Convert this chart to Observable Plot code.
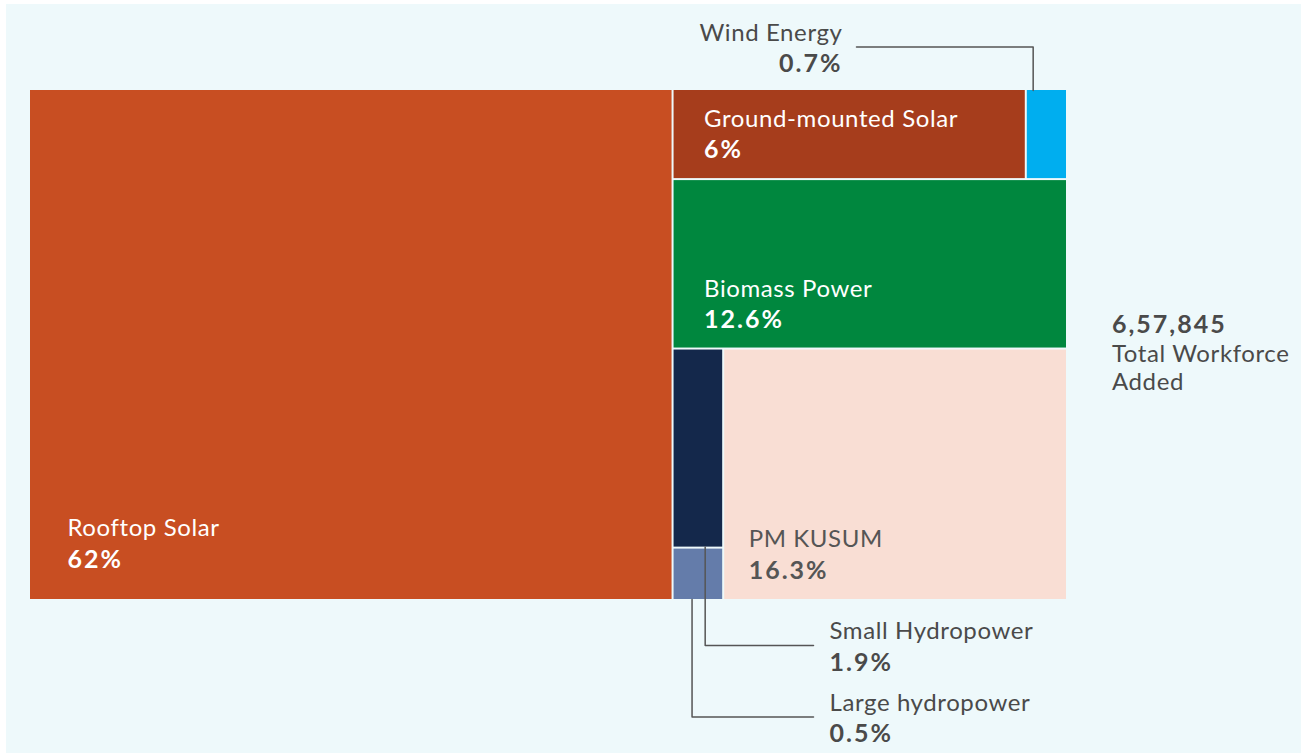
<!DOCTYPE html>
<html><head><meta charset="utf-8">
<script src="https://cdn.jsdelivr.net/npm/d3@7"></script>
<script src="https://cdn.jsdelivr.net/npm/@observablehq/plot@0.6"></script>
<style>
html,body{margin:0;padding:0;background:#fff;}
#chart{position:absolute;left:6px;top:4px;width:1295px;height:749px;background:#EEF9FB;}
#chart svg{display:block;}
#chart g[font-size="24"]{letter-spacing:0.6px;}
#chart g[font-size="25"]{letter-spacing:2px;}
</style></head><body><div id="chart"></div>
<script>
// ---- data ----
const categories = ["Rooftop Solar","Ground-mounted Solar","Wind Energy","Biomass Power","Small Hydropower","Large hydropower","PM KUSUM"];
const shares = [62, 6, 0.7, 12.6, 1.9, 0.5, 16.3];
const shareLabels = ["62%","6%","0.7%","12.6%","1.9%","0.5%","16.3%"];
const totalWorkforce = "6,57,845";
const totalLines = ["Total Workforce","Added"];

// ---- style ----
const palette = ["#C84E22","#A63D1C","#00AEEF","#00873E","#14284B","#647CAA","#F9DED4"];
const textGray = "#4a4a4a";

// nesting used by the slice-dice treemap
const tree = {name:"root", children:[
  {name:"Rooftop Solar"},
  {name:"rest", children:[
    {name:"top", children:[{name:"Ground-mounted Solar"},{name:"Wind Energy"}]},
    {name:"Biomass Power"},
    {name:"bottom", children:[
      {name:"hydro", children:[{name:"Small Hydropower"},{name:"Large hydropower"}]},
      {name:"PM KUSUM"}
    ]}
  ]}
]};

const shareOf = new Map(categories.map((c,i)=>[c,shares[i]]));
const labelOf = new Map(categories.map((c,i)=>[c,shareLabels[i]]));

const W = 1036, H = 509;
const root = d3.hierarchy(tree).sum(d => d.children ? 0 : shareOf.get(d.name));
d3.treemap().tile(d3.treemapSliceDice).size([W,H]).paddingInner(2)(root);
const cells = root.leaves().map(d => ({name:d.data.name, x0:d.x0, x1:d.x1, y0:d.y0, y1:d.y1}));
const cellOf = new Map(cells.map(c=>[c.name,c]));

// in-cell labels (offsets in px)
const inside = [
  {name:"Rooftop Solar", anchor:"bottom", dx:37, dy:32, color:"#fff"},
  {name:"Ground-mounted Solar", anchor:"top", dx:30, dy:36, color:"#fff"},
  {name:"Biomass Power", anchor:"bottom", dx:30, dy:20, color:"#fff"},
  {name:"PM KUSUM", anchor:"bottom", dx:24, dy:21, color:"#555"}
];
const gap = 31.5;
const insideRows = inside.map(o => {
  const c = cellOf.get(o.name);
  let nameY, pctY;
  if (o.anchor === "top") { nameY = c.y0 + o.dy; pctY = nameY + gap; }
  else { pctY = c.y1 - o.dy; nameY = pctY - gap; }
  return {name:o.name, pct:labelOf.get(o.name), x:c.x0 + o.dx, nameY, pctY, color:o.color};
});

// callouts
const callouts = [
  {name:"Wind Energy", side:"top", fx:0.15, lineY:-43.5, endX:826, anchor:"end"},
  {name:"Small Hydropower", side:"bottom", fx:0.64, lineY:555, endX:783, anchor:"start"},
  {name:"Large hydropower", side:"bottom", fx:0.37, lineY:626.5, endX:783, anchor:"start"}
];
const calloutLines = callouts.flatMap(o => {
  const c = cellOf.get(o.name);
  const x = c.x0 + o.fx*(c.x1 - c.x0);
  const y = o.side === "top" ? c.y0 : c.y1;
  return [{name:o.name,x,y},{name:o.name,x,y:o.lineY},{name:o.name,x:o.endX,y:o.lineY}];
});
const calloutText = callouts.map(o => ({
  name:o.name, pct:labelOf.get(o.name),
  x: o.anchor === "end" ? o.endX - 14 : o.endX + 16,
  nameY: o.lineY - 6.5, pctY: o.lineY + 25, anchor:o.anchor
}));

const totalX = 1081.5;
const totalRows = [
  {t: totalLines[0], y: 271},
  {t: totalLines[1], y: 299}
];

const nameSize = 24, pctSize = 25;
const endT = calloutText.filter(d=>d.anchor==="end");
const startT = calloutText.filter(d=>d.anchor==="start");

const chart = Plot.plot({
  width: 1295, height: 749,
  marginLeft: 24, marginRight: 235, marginTop: 86, marginBottom: 154,
  x: {domain:[0,W], axis:null},
  y: {domain:[0,H], reverse:true, axis:null},
  color: {domain: categories, range: palette},
  style: {background:"transparent", fontFamily:"Lato, 'Noto Sans', sans-serif"},
  marks: [
    Plot.rect(cells, {x1:"x0", x2:"x1", y1:"y0", y2:"y1", fill:"name"}),
    Plot.line(calloutLines, {x:"x", y:"y", z:"name", stroke:"#555", strokeWidth:1.5, curve:"linear"}),
    Plot.text(insideRows, {x:"x", y:"nameY", text:"name", fill:"color", textAnchor:"start", lineAnchor:"bottom", fontSize:nameSize, fontWeight:400}),
    Plot.text(insideRows, {x:"x", y:"pctY", text:"pct", fill:"color", textAnchor:"start", lineAnchor:"bottom", fontSize:pctSize, fontWeight:700}),
    Plot.text(endT, {x:"x", y:"nameY", text:"name", fill:textGray, textAnchor:"end", lineAnchor:"bottom", fontSize:nameSize}),
    Plot.text(endT, {x:"x", y:"pctY", text:"pct", fill:textGray, textAnchor:"end", lineAnchor:"bottom", fontSize:pctSize, fontWeight:700}),
    Plot.text(startT, {x:"x", y:"nameY", text:"name", fill:textGray, textAnchor:"start", lineAnchor:"bottom", fontSize:nameSize}),
    Plot.text(startT, {x:"x", y:"pctY", text:"pct", fill:textGray, textAnchor:"start", lineAnchor:"bottom", fontSize:pctSize, fontWeight:700}),
    Plot.text([totalWorkforce], {x:()=>totalX, y:()=>242, text:d=>d, fill:textGray, textAnchor:"start", lineAnchor:"bottom", fontSize:pctSize, fontWeight:700}),
    Plot.text(totalRows, {x:()=>totalX, y:"y", text:"t", fill:textGray, textAnchor:"start", lineAnchor:"bottom", fontSize:nameSize, fontWeight:400})
  ]
});
document.getElementById("chart").appendChild(chart);
</script></body></html>
